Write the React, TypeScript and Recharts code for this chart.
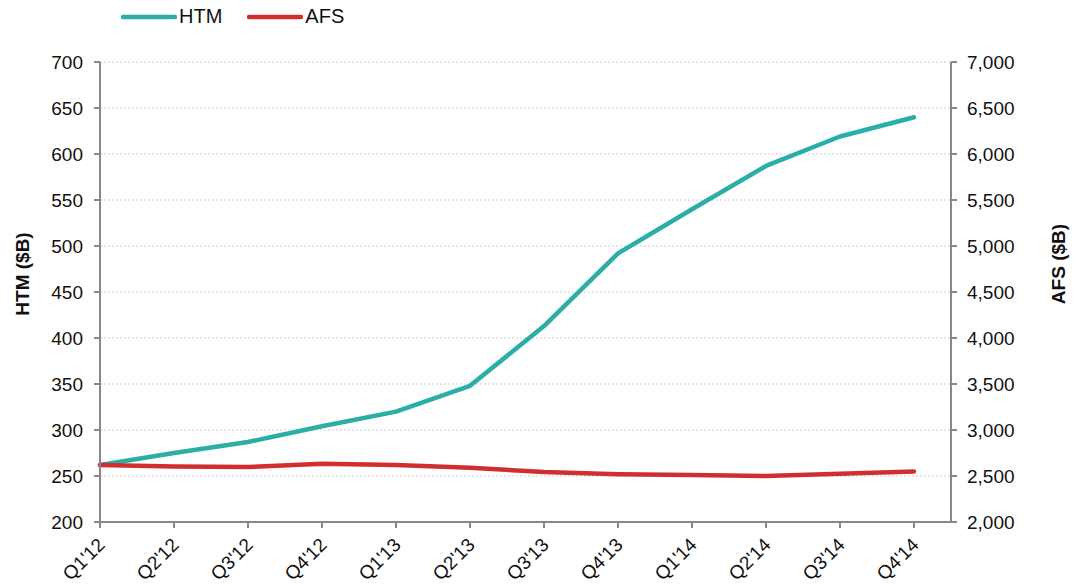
import React from "react";
import {
  LineChart,
  Line,
  XAxis,
  YAxis,
  CartesianGrid,
} from "recharts";

// quarters on the x axis
const quarters = [
  "Q1'12", "Q2'12", "Q3'12", "Q4'12",
  "Q1'13", "Q2'13", "Q3'13", "Q4'13",
  "Q1'14", "Q2'14", "Q3'14", "Q4'14",
];

// held-to-maturity, left axis ($B)
const htm = [262, 275, 287, 304, 320, 348, 413, 492, 540, 587, 619, 640];

// available-for-sale, right axis ($B)
const afs = [2620, 2602, 2598, 2633, 2620, 2590, 2543, 2520, 2510, 2500, 2525, 2550];

const leftTicks = [200, 250, 300, 350, 400, 450, 500, 550, 600, 650, 700];
const rightTicks = [2000, 2500, 3000, 3500, 4000, 4500, 5000, 5500, 6000, 6500, 7000];

const HTM_COLOR = "#2BADA8";
const AFS_COLOR = "#D12F2F";
const AXIS_COLOR = "#888888";
const FONT = "'Liberation Sans', Arial, sans-serif";

const data = quarters.map((q, i) => ({ q, htm: htm[i], afs: afs[i] }));

const XTick = (props: any) => {
  const { x, y, payload } = props;
  const ax = x + 6;
  const ay = y + 16;
  return (
    <text
      x={ax}
      y={ay}
      textAnchor="end"
      fontSize={19}
      fontFamily={FONT}
      fill="#111"
      transform={`rotate(-45, ${ax}, ${ay})`}
    >
      {payload.value}
    </text>
  );
};

// vertical bold axis title, centred on a fixed x
const AxisTitle = ({ viewBox, text, cx, shift }: any) => {
  const cy = viewBox.y + viewBox.height / 2 + shift;
  return (
    <text
      x={cx}
      y={cy}
      textAnchor="middle"
      dominantBaseline="central"
      fontSize={19}
      fontWeight="bold"
      fontFamily={FONT}
      fill="#111"
      transform={`rotate(-90, ${cx}, ${cy})`}
    >
      {text}
    </text>
  );
};

const legendItems = [
  { name: "HTM", color: HTM_COLOR },
  { name: "AFS", color: AFS_COLOR },
];

const LegendBox = () => (
  <div
    style={{
      position: "absolute",
      top: 5,
      left: 121,
      display: "flex",
      fontFamily: FONT,
      fontSize: 20,
      color: "#111",
    }}
  >
    {legendItems.map((it) => (
      <div key={it.name} style={{ display: "flex", alignItems: "center", marginRight: 25 }}>
        <svg width={56} height={8}>
          <line x1={2} y1={4} x2={54} y2={4} stroke={it.color} strokeWidth={4.5} strokeLinecap="round" />
        </svg>
        <span style={{ marginLeft: 2 }}>{it.name}</span>
      </div>
    ))}
  </div>
);

export default function App() {
  return (
    <div style={{ width: 1074, height: 588, position: "relative" }}>
      <style>{`body{margin:0;background:#fff}`}</style>
      <LegendBox />
      <LineChart
        width={1074}
        height={588}
        data={data}
        margin={{ top: 62, right: 0, left: 0, bottom: 0 }}
      >
        <CartesianGrid vertical={false} stroke="#cccccc" strokeDasharray="2 2" yAxisId="left" />
        <XAxis
          dataKey="q"
          height={66}
          padding={{ left: 0, right: 37 }}
          stroke={AXIS_COLOR}
          strokeWidth={2}
          tickSize={6}
          tick={<XTick />}
          interval={0}
        />
        <YAxis
          yAxisId="left"
          orientation="left"
          width={100}
          domain={[200, 700]}
          ticks={leftTicks}
          stroke={AXIS_COLOR}
          strokeWidth={2}
          tickSize={6}
          tick={{ fill: "#111", fontSize: 19, fontFamily: FONT }}
          tickMargin={11}
          label={<AxisTitle text="HTM ($B)" cx={22} shift={-18} />}
        />
        <YAxis
          yAxisId="right"
          orientation="right"
          width={123}
          domain={[2000, 7000]}
          ticks={rightTicks}
          stroke={AXIS_COLOR}
          strokeWidth={2}
          tickSize={6}
          tick={{ fill: "#111", fontSize: 19, fontFamily: FONT }}
          tickMargin={10}
          tickFormatter={(v: number) => v.toLocaleString("en-US")}
          label={<AxisTitle text="AFS ($B)" cx={1058} shift={-28} />}
        />
        <Line
          yAxisId="left"
          type="linear"
          dataKey="htm"
          stroke={HTM_COLOR}
          strokeWidth={4.5}
          strokeLinejoin="round"
          strokeLinecap="round"
          dot={false}
          isAnimationActive={false}
        />
        <Line
          yAxisId="right"
          type="linear"
          dataKey="afs"
          stroke={AFS_COLOR}
          strokeWidth={4.5}
          strokeLinejoin="round"
          strokeLinecap="round"
          dot={false}
          isAnimationActive={false}
        />
      </LineChart>
    </div>
  );
}
